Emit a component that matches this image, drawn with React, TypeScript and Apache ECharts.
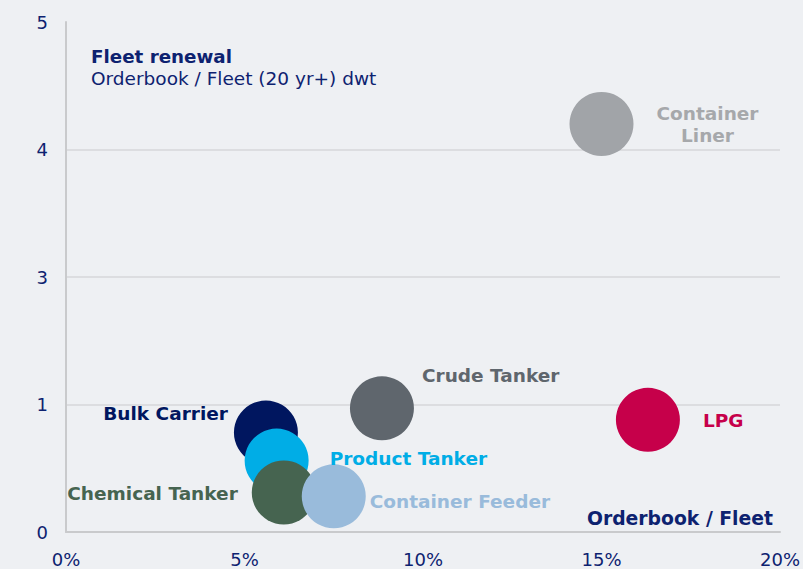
import React, { useEffect, useRef } from "react";
import * as echarts from "echarts";

const shipNames = [
  "Bulk Carrier",
  "Product Tanker",
  "Chemical Tanker",
  "Container Feeder",
  "Crude Tanker",
  "LPG",
  "Container Liner",
];
// Orderbook / Fleet (%)
const orderbookPct = [5.6, 5.9, 6.1, 7.5, 8.85, 16.3, 15.0];
// Orderbook / Fleet (20 yr+) dwt
const renewalRatio = [0.78, 0.56, 0.31, 0.28, 0.97, 0.88, 4.2];
const xTickValues = [0, 5, 10, 15, 20];
const yTickLabels = ["0", "1", "3", "4", "5"];

const NAVY = "#0d2270";
const FONT = "DejaVu Sans, Verdana, sans-serif";

const styles: Record<string, any> = {
  "Bulk Carrier": { color: "#00165f", label: "#00165f", position: "left", distance: 6, offset: [0, -19] },
  "Product Tanker": { color: "#00ade6", label: "#00ade6", position: "right", distance: 21, offset: [0, -2] },
  "Chemical Tanker": { color: "#466450", label: "#466450", position: "left", distance: 14, offset: [0, 1] },
  "Container Feeder": { color: "#99bbdb", label: "#99bbdb", position: "right", distance: 4, offset: [0, 5] },
  "Crude Tanker": { color: "#5f666d", label: "#5f666d", position: "right", distance: 8, offset: [0, -33] },
  LPG: { color: "#c6004a", label: "#c6004a", position: "right", distance: 23, offset: [0, 1] },
  "Container Liner": { color: "#a1a4a8", label: "#a6a8ab", position: [138, 32], align: "center" },
};

// broken y axis: 0..1 linear, 1..3 compressed into one step, 3..5 linear
function toAxisPos(v: number): number {
  if (v <= 1) return v;
  if (v <= 3) return 1 + (v - 1) / 2;
  return v - 1;
}

export default function App() {
  const ref = useRef<HTMLDivElement>(null);
  useEffect(() => {
    document.body.style.margin = "0";
    document.body.style.background = "#eef0f3";
    const chart = echarts.init(ref.current!, undefined, { renderer: "svg" });
    const data = shipNames.map((name, i) => {
      const s = styles[name];
      return {
        name,
        value: [orderbookPct[i], toAxisPos(renewalRatio[i])],
        itemStyle: { color: s.color, opacity: 1 },
        label: {
          show: true,
          formatter: name === "Container Liner" ? "Container\nLiner" : name,
          position: s.position,
          distance: s.distance,
          offset: s.offset,
          align: s.align,
          verticalAlign: "middle",
          color: s.label,
          fontFamily: FONT,
          fontWeight: "bold",
          fontSize: 18.5,
          lineHeight: 22,
        },
      };
    });
    chart.setOption({
      animation: false,
      backgroundColor: "#eef0f3",
      grid: { left: 66, right: 23, top: 22, bottom: 37 },
      xAxis: {
        type: "value",
        min: xTickValues[0],
        max: xTickValues[xTickValues.length - 1],
        interval: 5,
        axisLine: { show: true, lineStyle: { color: "#c9cacc", width: 2 } },
        axisTick: { show: false },
        splitLine: { show: false },
        axisLabel: {
          formatter: (v: number) => `${v}%`,
          color: NAVY,
          fontFamily: FONT,
          fontSize: 18,
          margin: 18,
        },
      },
      yAxis: {
        type: "value",
        min: 0,
        max: yTickLabels.length - 1,
        interval: 1,
        axisLine: { show: true, lineStyle: { color: "#c9cacc", width: 2 } },
        axisTick: { show: false },
        splitLine: { show: true, showMaxLine: false, lineStyle: { color: "#d6d7da", width: 1.5 } },
        axisLabel: {
          formatter: (v: number) => yTickLabels[Math.round(v)] ?? "",
          color: NAVY,
          fontFamily: FONT,
          fontSize: 18,
          margin: 18,
        },
      },
      graphic: [
        {
          type: "text",
          left: 91,
          top: 47,
          style: { text: "Fleet renewal", fill: NAVY, font: `bold 18.3px ${FONT}` },
        },
        {
          type: "text",
          left: 91,
          top: 69,
          style: { text: "Orderbook / Fleet (20 yr+) dwt", fill: NAVY, font: `18.5px ${FONT}` },
        },
        {
          type: "text",
          right: 30,
          top: 509,
          style: { text: "Orderbook / Fleet", fill: NAVY, font: `bold 18.8px ${FONT}` },
        },
      ],
      series: [
        {
          type: "scatter",
          symbol: "circle",
          symbolSize: 64,
          data,
          emphasis: { disabled: true },
        },
      ],
    });
    return () => chart.dispose();
  }, []);
  return <div ref={ref} style={{ width: 803, height: 569 }} />;
}
